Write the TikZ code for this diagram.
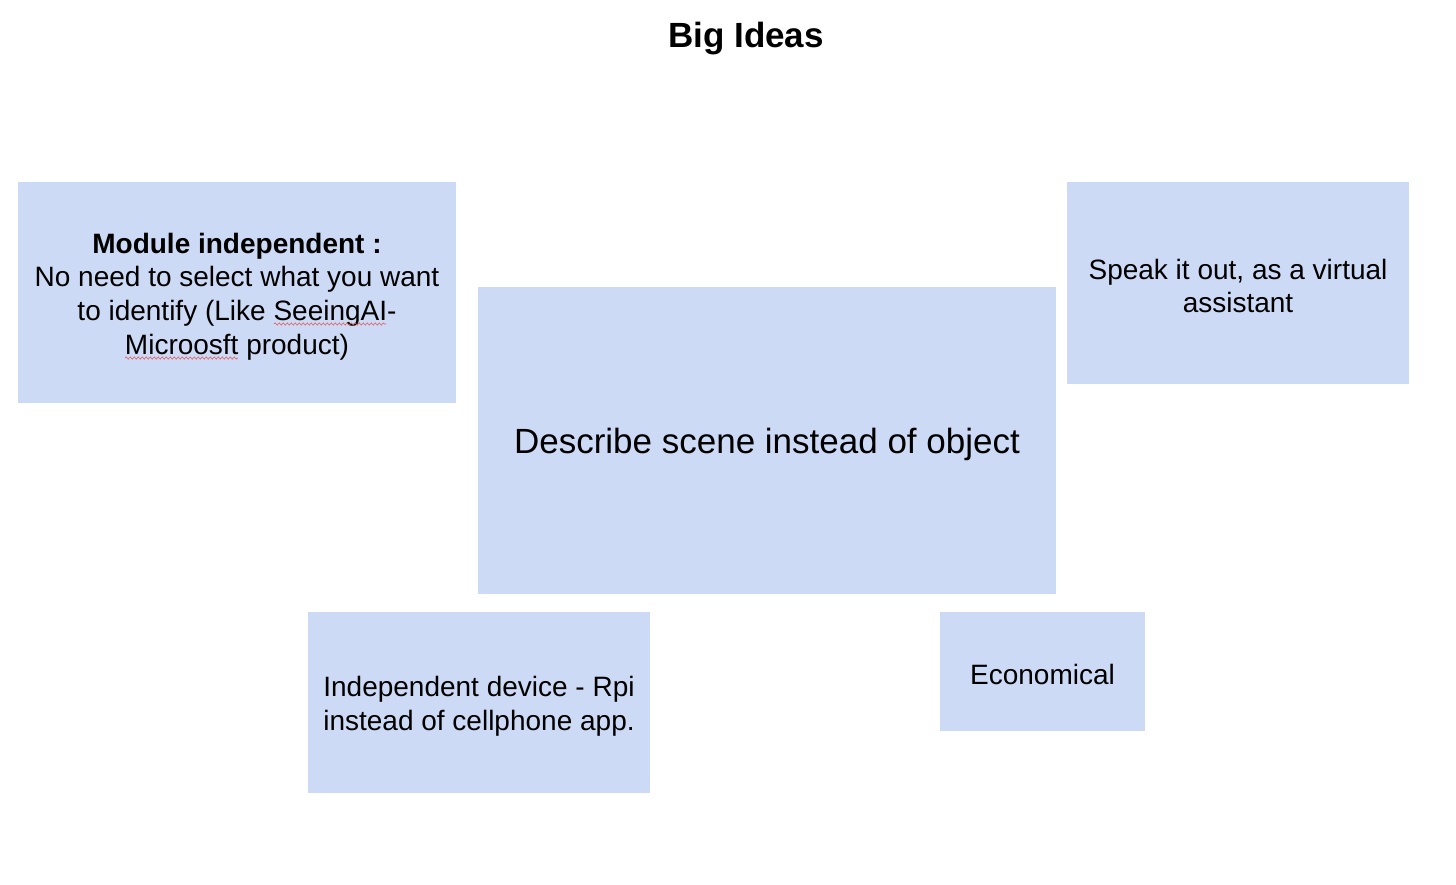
\documentclass[tikz,border=0pt]{standalone}
\usepackage{fontspec}
\setmainfont{Liberation Sans}
\usetikzlibrary{decorations.pathmorphing}
\definecolor{boxblue}{HTML}{CCDAF5}
\definecolor{spellred}{HTML}{E05A5A}
\begin{document}
\begin{tikzpicture}[x=1pt,y=-1pt,
  idea/.style={fill=boxblue, draw=none, inner sep=0pt},
  ideatext/.style={inner sep=0pt, align=center,
    font=\fontsize{28}{33.7}\selectfont},
  squiggle/.style={draw=spellred, line width=0.6pt,
    decorate, decoration={snake, amplitude=1.1pt, segment length=4pt}}]
  % page frame
  \useasboundingbox (0,0) rectangle (1456,884);
  \fill[white] (0,0) rectangle (1456,884);

  % title
  \node (title) at (746,39) {\fontsize{35}{40}\selectfont\bfseries Big Ideas};

  % idea boxes
  \node[idea, minimum width=438, minimum height=221] (module) at (237,292.5) {};
  \node[idea, minimum width=578, minimum height=307] (scene) at (767,440.5) {};
  \node[idea, minimum width=342, minimum height=202] (speak) at (1238,283) {};
  \node[idea, minimum width=342, minimum height=181] (device) at (479,702.5) {};
  \node[idea, minimum width=205, minimum height=119] (econ) at (1042.5,671.5) {};

  % box texts
  \node[ideatext] (moduletext) at ([yshift=-4pt]module.center)
    {\textbf{Module independent :}\\No need to select what you want\\to identify (Like SeeingAI-\\Microosft product)};
  \node[ideatext, font=\fontsize{35}{40}\selectfont] (scenetext) at ([yshift=-4pt]scene.center)
    {Describe scene instead of object};
  \node[ideatext] (speaktext) at ([yshift=-3pt]speak.center)
    {Speak it out, as a virtual\\assistant};
  \node[ideatext] (devicetext) at ([yshift=-4pt]device.center)
    {Independent device - Rpi\\instead of cellphone app.};
  \node[ideatext] (econtext) at ([yshift=-3pt]econ.center)
    {Economical};

  % spell-check marks under the unknown words
  \coordinate (sqa) at (274,324);
  \coordinate (sqb) at (386,324);
  \coordinate (sqc) at (125,358);
  \coordinate (sqd) at (238,358);
  \draw[squiggle] (sqa) -- (sqb);
  \draw[squiggle] (sqc) -- (sqd);
\end{tikzpicture}
\end{document}
